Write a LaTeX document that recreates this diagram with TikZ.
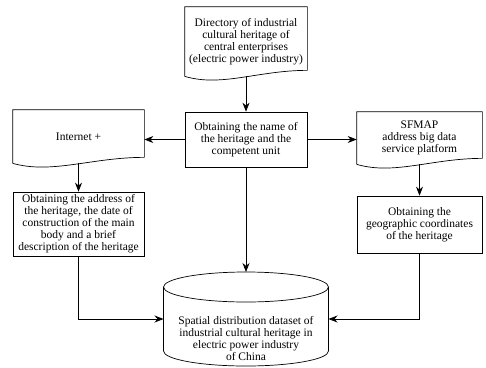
\documentclass[tikz,border=0pt]{standalone}
\usepackage{fontspec}
\setmainfont{Liberation Serif}
\usetikzlibrary{arrows.meta, positioning, calc}

% outline of a document node: flat top, wavy bottom
\newcommand{\docoutline}[1]{%
  \draw[line width=0.7pt] (#1.south west) -- (#1.north west) -- (#1.north east) -- ($(#1.south east)+(0,-6)$)
    .. controls ($(#1.south west)!0.6!(#1.south east)+(0,-6)$) and ($(#1.south west)!0.3!(#1.south east)+(0,11)$) .. (#1.south west);}

\begin{document}
\begin{tikzpicture}[x=1pt, y=-1pt,
  box/.style={draw, line width=0.7pt, inner sep=0pt, align=center, font=\fontsize{11.5}{12}\selectfont},
  doc/.style={box, draw=none},
  arr/.style={line width=0.7pt, -{Stealth[length=9pt, width=7pt]}},
]
\useasboundingbox (0,0) rectangle (486,367);
% sources
\node[doc, minimum width=122pt, minimum height=69pt] (dir) at (246,41.5) {Directory of industrial\\cultural heritage of\\central enterprises\\(electric power industry)};
\docoutline{dir}
\node[box, minimum width=122pt, minimum height=55pt] (name) at (246,139.5) {Obtaining the name of\\the heritage and the\\competent unit};
\node[doc, minimum width=131pt, minimum height=53pt] (inet) at (78.5,136.5) {Internet +};
\docoutline{inet}
\node[doc, minimum width=125pt, minimum height=52pt] (sfmap) at (419.5,138) {SFMAP\\address big data\\service platform};
\docoutline{sfmap}
% results
\node[box, minimum width=131pt, minimum height=64pt] (addr) at (78.5,224) {Obtaining the address of\\the heritage, the date of\\construction of the main\\body and a brief\\description of the heritage};
\node[box, minimum width=125pt, minimum height=57pt] (coord) at (419.5,224.5) {Obtaining the\\geographic coordinates\\of the heritage};
% dataset
\draw[line width=0.7pt] (163.5,287) -- (163.5,351) arc[start angle=180, end angle=0, x radius=82.5, y radius=15] -- (328.5,287);
\draw[line width=0.7pt] (246,287) ellipse[x radius=82.5, y radius=15];
\node[align=center, font=\fontsize{11.5}{12}\selectfont] (data) at (246,338) {Spatial distribution dataset of\\industrial cultural heritage in\\electric power industry\\of China};
\coordinate (datatop) at (246,272);
\coordinate (dataleft) at (163.5,319);
\coordinate (dataright) at (328.5,319);
% flow
\draw[arr] (dir.south) -- (name.north);
\draw[arr] (name.west) -- (name.west -| inet.east);
\draw[arr] (name.east) -- (name.east -| sfmap.west);
\draw[arr] (inet.south) -- (addr.north);
\draw[arr] (sfmap.south) -- (coord.north);
\draw[arr] (name.south) -- (datatop);
\draw[arr] (addr.south) |- (dataleft);
\draw[arr] (coord.south) |- (dataright);
\end{tikzpicture}
\end{document}
